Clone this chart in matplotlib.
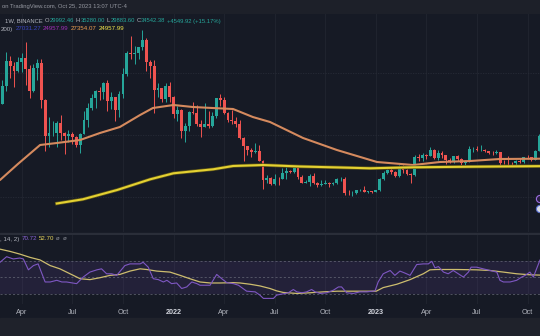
"""
Recriacao de um grafico semanal do BTC (TradingView, tema escuro).

- painel de cima: candles semanais + media de 50 (laranja) e de 200 (amarela);
- painel de baixo: RSI (roxo) com a sua media (oliva) e a faixa 30-70.
"""

import matplotlib

matplotlib.use("Agg")

import matplotlib.patheffects as pe
import matplotlib.pyplot as plt
import numpy as np
import pandas as pd
from matplotlib.patches import Circle, Rectangle
from matplotlib.transforms import IdentityTransform

plt.rcParams["font.family"] = ["Liberation Sans", "DejaVu Sans"]

LARGURA, ALTURA = 540, 336
FUNDO = "#161a25"
VERDE = "#26a69a"
VERMELHO = "#ef5350"
LARANJA = "#d58a5e"
AMARELO = "#e4d132"
ROXO = "#7e57c2"
OLIVA = "#cdbd6e"
CINZA_TEXTO = "#b2b5be"
GRADE = "#20242f"

PRIMEIRA_SEMANA = "2021-02-22"
REFERENCIA = "2022-01-03"

# candles semanais (BINANCE, 1W)
abertura = [
    # 2021
    57400, 45150, 50950, 59000, 57300, 55800, 58700, 59800, 56150, 49100,
    56600, 58200, 46400, 34700, 35600, 35800, 39000, 35500, 34700, 35300,
    34250, 31800, 35400, 39850, 43800, 47050, 49250, 48900, 51750, 46000,
    47250, 43200, 48200, 54700, 61550, 61000, 61300, 63300, 65500, 58700,
    57300, 49400, 50100, 46700, 50800,
    # 2022
    47300, 41850, 43100, 36300, 37900, 42400, 42200, 38400, 37700, 38400,
    37800, 41250, 46800, 46400, 42150, 39700, 39450, 38450, 34050, 31300,
    30300, 29450, 29900, 26600, 20550, 21050, 19300, 20850, 20800, 22600,
    23300, 23200, 24300, 21500, 19550, 19950, 21650, 19400, 18800, 19300,
    19450, 19150, 19550, 20650, 20900, 16350, 16300, 16450, 17100, 17120,
    16750, 16850,
    # 2023
    16600, 17100, 20850, 22700, 23750, 22950, 21800, 24650, 23550, 22450,
    22150, 28000, 27500, 28450, 28350, 30300, 27600, 29250, 28450, 26900,
    26750, 28100, 27100, 25850, 26350, 30450, 30600, 30150, 30300, 29800,
    29300, 29050, 29400, 26100, 26000, 25850, 25830, 26550, 26250, 27950,
    27920, 26850, 29992,
]
maxima = [
    57500, 52650, 61800, 60600, 58400, 60200, 61500, 64850, 57500, 58000,
    59500, 59600, 46600, 40900, 39500, 39500, 41300, 36000, 36600, 35900,
    34600, 35500, 42600, 45300, 48100, 49400, 50500, 52000, 52900, 48800,
    47300, 49250, 56600, 62000, 67000, 63700, 63500, 69000, 66300, 59300,
    59200, 51900, 50200, 51900, 52100,
    47600, 44500, 43500, 38900, 42650, 45800, 44750, 39800, 45400, 42600,
    42350, 46900, 48200, 47200, 42400, 43000, 40800, 40000, 34250, 31400,
    30650, 32400, 31750, 26900, 22000, 21550, 22500, 21600, 24300, 24650,
    23650, 25200, 25050, 22000, 20600, 22400, 22800, 19950, 20400, 20500,
    19950, 19700, 21100, 21500, 21450, 17200, 16800, 17400, 17450, 18400,
    17050, 16950,
    17150, 21250, 23350, 23950, 24250, 23450, 25250, 25250, 23900, 22600,
    28500, 28850, 29200, 28800, 31000, 30500, 30050, 29850, 28650, 27650,
    28250, 28450, 27450, 26800, 31450, 31000, 31500, 31800, 30450, 29950,
    29750, 30250, 29650, 26800, 28150, 26450, 26850, 27500, 28050, 28600,
    28000, 30250, 35280,
]
minima = [
    44900, 44950, 49300, 53300, 50400, 55400, 55450, 51000, 47000, 48750,
    52900, 43800, 30000, 31100, 34800, 31000, 33300, 28800, 32700, 32100,
    31000, 29300, 35200, 37500, 43000, 43800, 46300, 46500, 42800, 43400,
    39600, 40800, 46900, 54000, 59500, 57800, 59400, 62300, 55600, 53250,
    42000, 47100, 45500, 45600, 45700,
    40600, 39600, 34000, 32900, 36250, 41700, 38000, 34300, 37450, 37150,
    37600, 40500, 44200, 41900, 39200, 38500, 37600, 33700, 26700, 28600,
    28000, 29300, 26550, 17600, 19600, 18750, 18800, 18900, 20750, 20700,
    22650, 22850, 20800, 19500, 19500, 18550, 19350, 18150, 18500, 19150,
    18200, 18900, 19250, 20050, 15600, 15800, 15480, 16000, 16850, 16550,
    16400, 16350,
    16550, 17000, 20400, 22300, 22550, 21450, 21350, 22750, 21950, 19550,
    21900, 26600, 26500, 27200, 28150, 27150, 26950, 27650, 25800, 26100,
    25900, 26500, 25350, 24800, 26250, 29500, 29700, 29950, 29500, 28850,
    28600, 28750, 25150, 25800, 25400, 25350, 24900, 26050, 26000, 27200,
    26550, 26800, 29884,
]
fechamento = [
    45150, 50950, 59000, 57300, 55800, 58700, 59800, 56150, 49100, 56600,
    58200, 46400, 34700, 35600, 35800, 39000, 35500, 34700, 35300, 34250,
    31800, 35400, 39850, 43800, 47050, 49250, 48900, 51750, 46000, 47250,
    43200, 48200, 54700, 61550, 61000, 61300, 63300, 65500, 58700, 57300,
    49400, 50100, 46700, 50800, 47300,
    41850, 43100, 36300, 37900, 42400, 42200, 38400, 37700, 38400, 37800,
    41250, 46800, 46400, 42150, 39700, 39450, 38450, 34050, 31300, 30300,
    29450, 29900, 26600, 20550, 21050, 19300, 20850, 20800, 22600, 23300,
    23200, 24300, 21500, 19550, 19950, 21650, 19400, 18800, 19300, 19450,
    19150, 19550, 20650, 20900, 16350, 16300, 16450, 17100, 17120, 16750,
    16850, 16600,
    17100, 20850, 22700, 23750, 22950, 21800, 24650, 23550, 22450, 22150,
    28000, 27500, 28450, 28350, 30300, 27600, 29250, 28450, 26900, 26750,
    28100, 27100, 25850, 26350, 30450, 30600, 30150, 30300, 29800, 29300,
    29050, 29400, 26100, 26000, 25850, 25830, 26550, 26250, 27950, 27920,
    26850, 29992, 34542,
]

# medias moveis (semanas contadas a partir de 2022-01-03)
ma50_semana = [-44.6, -40.0, -34.3, -30.0, -24.0, -18.9, -13.8, -8.6, -5.3, 0.0,
               5.0, 10.0, 15.3, 20.4, 24.8, 33.3, 42.0, 52.3, 61.6, 68.5,
               76.2, 83.9, 94.2]
ma50_valor = [20480, 25650, 31775, 32420, 33390, 35650, 37580, 41450, 43710, 44680,
              44030, 43710, 43390, 40800, 39200, 34030, 30160, 26290, 25320, 26290,
              26610, 27260, 27354]
ma200_semana = [-30.0, -23.3, -14.5, -6.0, 0.0, 10.2, 15.3, 23.0, 32.5, 42.8,
                50.5, 61.6, 76.2, 94.2]
ma200_valor = [12900, 14260, 17260, 20710, 22650, 23940, 25000, 25320, 24840, 24520,
               24260, 24580, 24770, 24958]

# RSI e a sua media
rsi_semana = [-44.6, -42.9, -41.2, -39.5, -38.6, -37.3, -36.0, -34.8, -33.0, -31.7,
              -30.0, -28.7, -27.5, -24.9, -23.2, -21.5, -19.7, -18.5, -17.2, -15.9,
              -14.6, -12.5, -11.2, -8.6, -7.8, -6.5, -5.2, -3.9, -2.6, -1.7,
              -0.5, 0.8, 2.1, 3.4, 4.7, 6.0, 6.8, 9.4, 11.1, 12.4,
              13.7, 15.4, 16.7, 18.8, 21.0, 22.2, 23.1, 24.8, 25.7, 26.5,
              27.8, 29.5, 30.8, 31.7, 33.0, 34.2, 35.5, 36.4, 37.7, 39.4,
              41.1, 42.4, 43.2, 44.5, 46.2, 47.9, 49.7, 51.8, 52.6, 53.9,
              55.7, 56.9, 58.2, 59.5, 60.8, 62.5, 64.2, 65.5, 66.4, 67.2,
              68.1, 69.4, 70.6, 71.9, 73.2, 74.5, 75.8, 76.5, 77.9, 79.6,
              81.4, 83.1, 83.9, 84.8, 86.5, 88.2, 89.5, 90.4, 91.6, 92.5,
              93.3, 94.2]
rsi_valor = [68.0, 74.7, 72.0, 73.1, 72.0, 59.0, 64.1, 66.1, 44.5, 44.5,
             46.5, 44.5, 44.5, 42.5, 50.4, 56.3, 59.0, 60.2, 54.3, 54.3,
             52.4, 64.1, 66.1, 66.1, 68.0, 62.2, 48.4, 47.3, 44.5, 46.5,
             42.5, 43.3, 36.7, 38.6, 44.5, 42.5, 40.6, 40.6, 53.5, 48.4,
             43.7, 42.5, 40.6, 33.5, 32.7, 28.8, 24.9, 24.9, 24.9, 28.8,
             30.0, 31.6, 35.5, 32.7, 31.6, 32.7, 35.5, 32.7, 30.8, 31.6,
             34.7, 38.6, 38.6, 31.6, 30.8, 32.7, 32.7, 33.9, 44.5, 54.3,
             58.2, 52.4, 57.5, 55.1, 52.4, 65.3, 66.1, 66.1, 69.2, 61.4,
             62.9, 56.3, 54.3, 58.2, 54.3, 50.4, 56.3, 62.2, 62.2, 60.2,
             58.2, 56.3, 46.5, 44.5, 44.5, 46.5, 50.4, 52.4, 56.3, 50.4,
             60.0, 70.7]
ma_rsi_semana = [-44.6, -42.0, -39.5, -36.9, -34.3, -31.7, -29.2, -26.6, -24.0, -21.5,
                 -18.9, -16.3, -13.8, -11.2, -8.6, -6.9, -4.3, -0.9, 1.7, 4.2,
                 6.8, 9.4, 12.0, 15.4, 17.1, 19.7, 22.2, 24.8, 26.5, 28.2,
                 31.7, 35.1, 38.5, 42.1, 45.4, 48.8, 52.1, 53.9, 57.4, 60.8,
                 64.2, 65.9, 67.7, 72.8, 77.9, 81.4, 84.8, 88.2, 91.6, 94.2]
ma_rsi_valor = [83.7, 81.0, 77.8, 73.9, 70.8, 64.1, 60.2, 54.3, 48.4, 47.3,
                49.6, 52.4, 53.5, 57.5, 60.2, 59.4, 57.5, 56.3, 52.4, 48.4,
                44.5, 43.3, 43.3, 43.7, 43.3, 41.8, 39.8, 36.7, 33.9, 32.0,
                30.8, 31.6, 32.7, 33.5, 33.5, 33.5, 33.5, 37.8, 41.8, 47.3,
                54.3, 59.0, 59.4, 59.4, 59.0, 58.2, 56.3, 54.3, 53.1, 52.7]

tick_datas = ["2021-04-05", "2021-07-05", "2021-10-04", "2022-01-03", "2022-04-04",
              "2022-07-04", "2022-10-03", "2023-01-02", "2023-04-03", "2023-07-03",
              "2023-10-02"]
tick_rotulos = ["Apr", "Jul", "Oct", "2022", "Apr", "Jul", "Oct", "2023", "Apr",
                "Jul", "Oct"]


def caixa(esq, topo, dir, base):
    """Converte um retangulo em pixels da imagem para coordenadas da figura."""
    return [esq / LARGURA, 1 - base / ALTURA, (dir - esq) / LARGURA, (base - topo) / ALTURA]


def linha_de_texto(fig, x, y, pedacos, tamanho=4.2, espaco=2.0):
    """Escreve pedacos coloridos em sequencia, medindo a largura de cada um."""
    renderer = fig.canvas.get_renderer()
    for s, cor, folga in pedacos:
        t = fig.text(x / LARGURA, 1 - y / ALTURA, s, color=cor, fontsize=tamanho,
                     ha="left", va="center")
        largura = t.get_window_extent(renderer).width
        x += largura + (espaco if folga else 0.3)


def semanas_de(datas):
    ref = pd.Timestamp(REFERENCIA)
    return [(pd.Timestamp(d) - ref).days / 7 for d in datas]


def preparar_eixo(ax, ticks):
    ax.set_facecolor(FUNDO)
    for lado in ax.spines.values():
        lado.set_visible(False)
    ax.set_xlim(-44.6, 94.2)
    ax.set_yticks([])
    for t in ticks:
        ax.axvline(t, color=GRADE, lw=0.7, zorder=0)


def desenhar_precos(ax, ticks):
    preparar_eixo(ax, ticks)
    ax.set_ylim(3709, 74036)
    ax.set_xticks([])
    for p in (15000, 35000, 55000):
        ax.axhline(p, color="#272b37", lw=0.6, ls=(0, (1.5, 1.5)), zorder=0)

    a = np.array(abertura, dtype=float)
    f = np.array(fechamento, dtype=float)
    inicio = (pd.Timestamp(PRIMEIRA_SEMANA) - pd.Timestamp(REFERENCIA)).days // 7
    semanas = np.arange(len(a)) + inicio
    cores = np.where(f >= a, VERDE, VERMELHO)

    ax.vlines(semanas, minima, maxima, colors=cores, lw=0.7, zorder=2)
    ax.bar(semanas, np.maximum(np.abs(f - a), 90), bottom=np.minimum(a, f),
           width=0.74, color=cores, linewidth=0, zorder=2)

    ax.plot(ma50_semana, ma50_valor, color=LARANJA, lw=1.5, zorder=3,
            solid_capstyle="round")
    ax.plot(ma200_semana, ma200_valor, color=AMARELO, lw=1.5, zorder=3,
            path_effects=[pe.Stroke(linewidth=2.5, foreground="#5c5418"), pe.Normal()])


def desenhar_rsi(ax, ticks):
    preparar_eixo(ax, ticks)
    ax.set_ylim(18.2, 100.6)
    ax.axhspan(30, 70, color=ROXO, alpha=0.13, lw=0, zorder=0)
    for nivel in (70, 50, 30):
        ax.axhline(nivel, color="#676a78", lw=0.5, ls=(0, (3, 3)), zorder=1)
    ax.plot(ma_rsi_semana, ma_rsi_valor, color=OLIVA, lw=0.9, zorder=2)
    ax.plot(rsi_semana, rsi_valor, color=ROXO, lw=0.8, zorder=3)

    ax.set_xticks(ticks, tick_rotulos)
    ax.tick_params(axis="x", length=0, pad=3.5, labelsize=5.2, labelcolor=CINZA_TEXTO)
    for rot in ax.get_xticklabels():
        if rot.get_text().isdigit():
            rot.set_fontweight("bold")
            rot.set_color("#d1d4dc")


def main():
    fig = plt.figure(figsize=(LARGURA / 100, ALTURA / 100), dpi=100, facecolor=FUNDO)
    ticks = semanas_de(tick_datas)

    # faixas de cabecalho, separador e rodape
    fig.add_artist(Rectangle((0, 1 - 13 / ALTURA), 1, 13 / ALTURA,
                             transform=fig.transFigure, color="#1d2029", zorder=-1))
    fig.add_artist(Rectangle((0, 1 - 234 / ALTURA), 1, 1.5 / ALTURA,
                             transform=fig.transFigure, color="#2a2e39", zorder=-1))
    fig.add_artist(Rectangle((0, 0), 1, 18 / ALTURA,
                             transform=fig.transFigure, color="#1f222b", zorder=-1))

    ax_preco = fig.add_axes(caixa(0, 14, 540, 232))
    ax_rsi = fig.add_axes(caixa(0, 235, 540, 304))
    desenhar_precos(ax_preco, ticks)
    desenhar_rsi(ax_rsi, ticks)

    # textos do TradingView
    linha_de_texto(fig, 2, 6.5, [("on TradingView.com, Oct 25, 2023 13:07 UTC-4",
                                  "#9598a1", False)], tamanho=4.2)
    linha_de_texto(fig, 5, 21, [
        ("1W, BINANCE", CINZA_TEXTO, True),
        ("O", CINZA_TEXTO, False), ("29992.46", VERDE, True),
        ("H", CINZA_TEXTO, False), ("35280.00", VERDE, True),
        ("L", CINZA_TEXTO, False), ("29883.60", VERDE, True),
        ("C", CINZA_TEXTO, False), ("34542.38", VERDE, True),
        ("+4549.92 (+15.17%)", VERDE, True),
    ])
    linha_de_texto(fig, 1, 29, [
        ("200)", CINZA_TEXTO, True),
        ("27031.27", "#3a46c0", True),
        ("24957.99", "#a030b8", True),
        ("27354.07", "#f0a050", True),
        ("24957.99", "#f5e94a", True),
    ], tamanho=4.4)
    linha_de_texto(fig, 0, 239, [
        (", 14, 2)", CINZA_TEXTO, True),
        ("70.72", "#8a64d6", True),
        ("52.70", "#e8d65c", True),
        ("\u00f8  \u00f8", "#8a8d96", True),
    ], tamanho=4.4)

    # icones cortados na borda direita
    ident = IdentityTransform()
    fig.add_artist(Circle((540, ALTURA - 199), 3.6, transform=ident,
                          facecolor="#2b2045", edgecolor="#9b6ee0", lw=0.8))
    fig.add_artist(Circle((540, ALTURA - 209), 3.6, transform=ident,
                          facecolor="#d9dce6", edgecolor="#5a6fd0", lw=0.8))

    fig.savefig("out.png", dpi=100, facecolor=fig.get_facecolor())


if __name__ == "__main__":
    main()
